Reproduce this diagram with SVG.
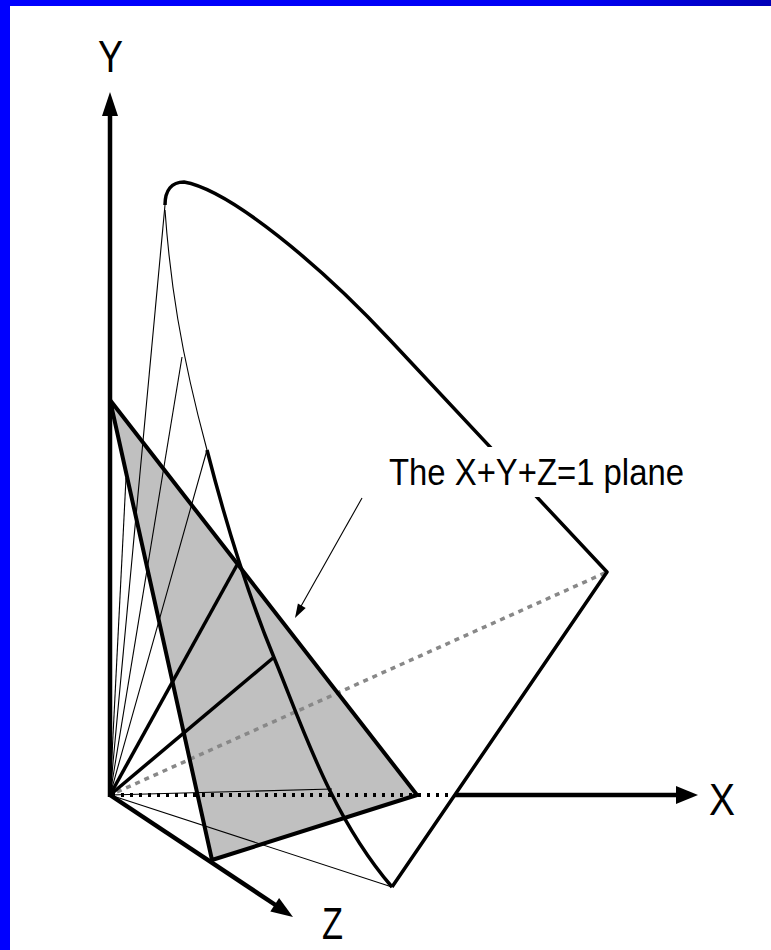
<svg xmlns="http://www.w3.org/2000/svg" width="771" height="950" viewBox="0 0 771 950">
  <style>
    .thin { fill: none; stroke: #000; stroke-width: 1.1; }
    .thick { fill: none; stroke: #000; stroke-width: 3.5; stroke-linejoin: round; }
    .edge { fill: none; stroke: #000; stroke-width: 4; stroke-linejoin: round; }
    .axis { fill: none; stroke: #000; stroke-width: 4.5; }
    .head { fill: #000; stroke: none; }
    .lbl { font-family: "Liberation Sans", Arial, sans-serif; fill: #000; }
  </style>
  <defs>
    <linearGradient id="topbar" x1="0" y1="0" x2="1" y2="0">
      <stop offset="0" stop-color="#0000ff"/>
      <stop offset="0.75" stop-color="#0000f4"/>
      <stop offset="1" stop-color="#0000b8"/>
    </linearGradient>
  </defs>
  <rect x="0" y="0" width="771" height="950" fill="#fff"/>
  <g id="frame">
    <rect x="0" y="0" width="771" height="6" fill="url(#topbar)"/>
    <rect x="0" y="0" width="10" height="950" fill="#0000ff"/>
  </g>
  <g id="plane">
    <polygon points="110,400 417,795 212,860" fill="#c0c0c0" stroke="none"/>
  </g>
  <g id="connectors">
    <!-- thin cone rays -->
    <line class="thin" x1="110" y1="795" x2="165" y2="205"/>
    <line class="thin" x1="110" y1="795" x2="182" y2="357"/>
    <line class="thin" x1="110" y1="795" x2="207" y2="450"/>
    <line class="thin" x1="110" y1="795" x2="126" y2="478"/>
    <line class="thin" x1="110" y1="795" x2="332" y2="789"/>
    <line class="thin" x1="110" y1="795" x2="392" y2="887"/>
    <!-- thin back part of locus -->
    <path class="thin" d="M165,210 C170,280 180,350 207,450"/>
    <!-- gray dotted line -->
    <line x1="117" y1="792" x2="607" y2="572" stroke="#888" stroke-width="3.5" stroke-dasharray="5 5"/>
    <!-- dotted X axis part -->
    <line x1="112" y1="795" x2="455" y2="795" stroke="#000" stroke-width="4" stroke-dasharray="3 6"/>
    <!-- triangle edges -->
    <polygon class="edge" points="110,400 417,795 212,860"/>
    <!-- thick rays to plane -->
    <line class="thick" x1="110" y1="795" x2="237" y2="565"/>
    <line class="thick" x1="110" y1="795" x2="273" y2="658"/>
    <!-- locus front curve -->
    <path class="thick" d="M207,450 C225,520 250,600 275,660 S330,815 392,887"/>
    <!-- outer locus -->
    <path class="thick" d="M165,205 C165,190 172,182 184,182 C230,190 320,265 390,340 L607,572 L392,887"/>
    <!-- axes -->
    <line class="axis" x1="110" y1="797" x2="110" y2="112"/>
    <polygon class="head" points="110,92 102,116 118,116"/>
    <line class="axis" x1="455" y1="795" x2="680" y2="795"/>
    <polygon class="head" points="698,795 676,786 676,804"/>
    <line class="axis" x1="110" y1="795" x2="277" y2="906"/>
    <polygon class="head" points="293,917 270.3,911.5 279.1,898.1"/>
    <!-- pointer -->
    <line class="thin" x1="362" y1="498" x2="300" y2="608"/>
    <polygon class="head" points="295,618 305.7,608 297.9,603.6"/>
  </g>
  <g id="labels">
    <text class="lbl" x="98" y="72" font-size="45" textLength="25" lengthAdjust="spacingAndGlyphs">Y</text>
    <text class="lbl" x="709" y="815" font-size="45" textLength="26" lengthAdjust="spacingAndGlyphs">X</text>
    <text class="lbl" x="322" y="939" font-size="45" textLength="21" lengthAdjust="spacingAndGlyphs">Z</text>
    <g id="plane-label">
      <rect x="383" y="447" width="306" height="50" fill="#fff"/>
      <text class="lbl" x="389" y="485" font-size="37" textLength="295" lengthAdjust="spacingAndGlyphs">The X+Y+Z=1 plane</text>
    </g>
  </g>
</svg>
